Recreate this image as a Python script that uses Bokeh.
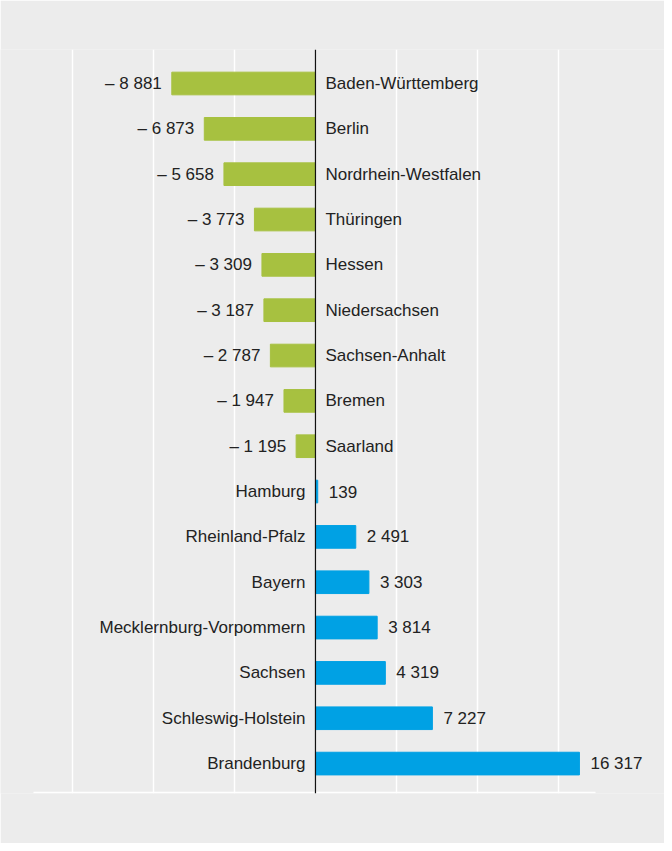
from bokeh.plotting import figure
from bokeh.models import ColumnDataSource, Range1d, Span, FixedTicker
from bokeh.core.properties import value
from bokeh.embed import file_html
from bokeh.resources import INLINE

states = ["Baden-Württemberg", "Berlin", "Nordrhein-Westfalen", "Thüringen", "Hessen",
          "Niedersachsen", "Sachsen-Anhalt", "Bremen", "Saarland", "Hamburg",
          "Rheinland-Pfalz", "Bayern", "Mecklernburg-Vorpommern", "Sachsen",
          "Schleswig-Holstein", "Brandenburg"]
values = [-8881, -6873, -5658, -3773, -3309, -3187, -2787, -1947, -1195, 139,
          2491, 3303, 3814, 4319, 7227, 16317]
grid_ticks = [-15000, -10000, -5000, 5000, 10000, 15000]
x_lo, x_hi = -17430, 17310

GREEN = "#a7c140"
BLUE = "#00a1e4"
BG = "#ececec"
FONT = "Liberation Sans"
FS = "17px"
TC = "#222222"


def fmt(v):
    s = f"{abs(v):,}".replace(",", " ")
    return ("– " + s) if v < 0 else s


pos = list(range(len(states)))
src = ColumnDataSource(dict(
    y=pos, v=values, name=states, label=[fmt(v) for v in values],
    color=[GREEN if v < 0 else BLUE for v in values]))
neg_idx = [i for i, v in enumerate(values) if v < 0]
pos_idx = [i for i, v in enumerate(values) if v >= 0]


def sub(idx):
    return ColumnDataSource(dict(
        y=[pos[i] for i in idx], v=[values[i] for i in idx],
        zero=[0] * len(idx), name=[states[i] for i in idx],
        label=[fmt(values[i]) for i in idx]))


neg_src = sub(neg_idx)
pos_src = sub(pos_idx)

W, H = 664, 843
plot_left, plot_right = 33, 595
scale = (plot_right - plot_left) / (x_hi - x_lo)
left_ext = x_lo - plot_left / scale
right_ext = x_hi + (W - plot_right) / scale

p = figure(width=W, height=H, output_backend="svg", toolbar_location=None,
           x_range=Range1d(left_ext, right_ext), y_range=Range1d(15.66, -0.75),
           min_border_left=0, min_border_right=0, min_border_top=49,
           min_border_bottom=50)
p.background_fill_color = BG
p.border_fill_color = BG
p.outline_line_color = None
p.xaxis.visible = False
p.yaxis.visible = False
p.ygrid.grid_line_color = None
p.xgrid.ticker = FixedTicker(ticks=grid_ticks)
p.xgrid.grid_line_color = "white"
p.xgrid.grid_line_width = 1.5

p.segment(x0=[x_lo], x1=[x_hi], y0=[15.64], y1=[15.64], line_color="white", line_width=1.5)

p.hbar(y="y", left=0, right="v", height=0.5, color="color", source=src)

p.add_layout(Span(location=0, dimension="height", line_color="#111111", line_width=1.2))

common = dict(text_font=value(FONT), text_font_size=FS, text_color=TC,
              text_baseline="middle")
p.text(x="zero", y="y", text="name", x_offset=10, text_align="left", source=neg_src, **common)
p.text(x="v", y="y", text="label", x_offset=-10, text_align="right", source=neg_src, **common)
p.text(x="zero", y="y", text="name", x_offset=-10, text_align="right", source=pos_src, **common)
p.text(x="v", y="y", text="label", x_offset=11, text_align="left", source=pos_src, **common)

open("out.html", "w").write(file_html(p, INLINE))
